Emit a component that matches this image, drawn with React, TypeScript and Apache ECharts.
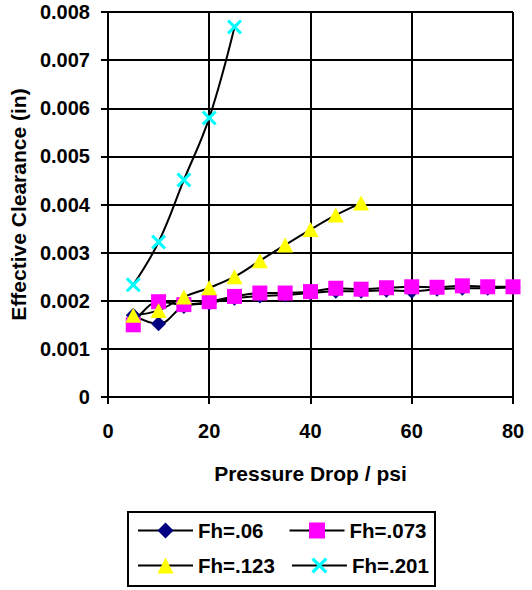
import React, { useEffect, useRef } from "react";
import * as echarts from "echarts";

const xFh06 = [5, 10, 15, 20, 25, 30, 35, 40, 45, 50, 55, 60, 65, 70, 75, 80];
const yFh06 = [0.0017, 0.00152, 0.00188, 0.00195, 0.00205, 0.0021, 0.00212, 0.00216, 0.0022, 0.0022, 0.00222, 0.0022, 0.00224, 0.00226, 0.00226, 0.00228];

const xFh073 = [5, 10, 15, 20, 25, 30, 35, 40, 45, 50, 55, 60, 65, 70, 75, 80];
const yFh073 = [0.0015, 0.00198, 0.00192, 0.00198, 0.00209, 0.00216, 0.00216, 0.00219, 0.00226, 0.00224, 0.00227, 0.00229, 0.00228, 0.00231, 0.00229, 0.00229];

const xFh123 = [5, 10, 15, 20, 25, 30, 35, 40, 45, 50];
const yFh123 = [0.0017, 0.0018, 0.00208, 0.00227, 0.0025, 0.00283, 0.00316, 0.00348, 0.00378, 0.00403];

const xFh201 = [5, 10, 15, 20, 25];
const yFh201 = [0.00233, 0.00322, 0.00451, 0.0058, 0.00769];

const seriesNames = ["Fh=.06", "Fh=.073", "Fh=.123", "Fh=.201"];
const xTitle = "Pressure Drop / psi";
const yTitle = "Effective Clearance (in)";

const FONT = "Liberation Sans, Arial, sans-serif";
const CROSS =
  "path://M0,1.4L1.4,0L5,3.6L8.6,0L10,1.4L6.4,5L10,8.6L8.6,10L5,6.4L1.4,10L0,8.6L3.6,5Z";

const zip = (xs: number[], ys: number[]) => xs.map((x, i) => [x, ys[i]]);

export default function App() {
  const ref = useRef<HTMLDivElement>(null);
  useEffect(() => {
    if (!ref.current) return;
    const chart = echarts.init(ref.current, null, { renderer: "svg" });
    const lineStyle = { color: "#000000", width: 2 };
    const legendCommon = {
      left: 137,
      orient: "horizontal" as const,
      itemWidth: 55,
      itemHeight: 20,
      padding: 0,
      textStyle: {
        fontFamily: FONT,
        fontWeight: "bold" as const,
        fontSize: 20.5,
        color: "#000",
      },
    };
    chart.setOption({
      animation: false,
      backgroundColor: "#ffffff",
      grid: { left: 107, right: 19, top: 12, bottom: 193 },
      xAxis: {
        type: "value",
        min: 0,
        max: 80,
        interval: 20,
        name: xTitle,
        nameLocation: "middle",
        nameGap: 66,
        nameTextStyle: { fontFamily: FONT, fontWeight: "bold", fontSize: 21, color: "#000" },
        axisLine: { show: true, lineStyle: { color: "#000", width: 2 } },
        axisTick: { show: true, length: 7, lineStyle: { color: "#000", width: 2 } },
        axisLabel: { fontFamily: FONT, fontWeight: "bold", fontSize: 20, color: "#000", margin: 24 },
        splitLine: { show: true, lineStyle: { color: "#000", width: 2 } },
      },
      yAxis: {
        type: "value",
        min: 0,
        max: 0.008,
        interval: 0.001,
        name: yTitle,
        nameLocation: "middle",
        nameGap: 76,
        nameTextStyle: { fontFamily: FONT, fontWeight: "bold", fontSize: 21, color: "#000" },
        axisLine: { show: true, lineStyle: { color: "#000", width: 2 } },
        axisTick: { show: true, length: 7, lineStyle: { color: "#000", width: 2 } },
        axisLabel: {
          fontFamily: FONT,
          fontWeight: "bold",
          fontSize: 20,
          color: "#000",
          margin: 18,
          padding: [7, 0, 0, 0],
          formatter: (v: number) => (v === 0 ? "0" : v.toFixed(3)),
        },
        splitLine: { show: true, lineStyle: { color: "#000", width: 2 } },
      },
      legend: [
        { ...legendCommon, top: 520, itemGap: 25, data: [seriesNames[0], seriesNames[1]] },
        { ...legendCommon, top: 555, itemGap: 16, data: [seriesNames[2], seriesNames[3]] },
      ],
      graphic: [
        {
          type: "rect",
          shape: { x: 128, y: 512, width: 307, height: 74 },
          style: { fill: "none", stroke: "#000", lineWidth: 2 },
          z: 0,
        },
      ],
      series: [
        {
          name: seriesNames[0],
          type: "line",
          data: zip(xFh06, yFh06),
          smooth: 0.4,
          symbol: "diamond",
          symbolSize: 15,
          lineStyle,
          itemStyle: { color: "#000080" },
        },
        {
          name: seriesNames[1],
          type: "line",
          data: zip(xFh073, yFh073),
          smooth: 0.4,
          symbol: "rect",
          symbolSize: 15,
          lineStyle,
          itemStyle: { color: "#FF00FF" },
        },
        {
          name: seriesNames[2],
          type: "line",
          data: zip(xFh123, yFh123),
          smooth: 0.4,
          symbol: "triangle",
          symbolSize: [16, 15],
          lineStyle,
          itemStyle: { color: "#FFFF00" },
        },
        {
          name: seriesNames[3],
          type: "line",
          data: zip(xFh201, yFh201),
          smooth: 0.4,
          symbol: CROSS,
          symbolSize: 15,
          lineStyle,
          itemStyle: { color: "#00FFFF" },
        },
      ],
    });
    return () => chart.dispose();
  }, []);
  return (
    <div
      ref={ref}
      style={{ position: "absolute", left: 0, top: 0, width: 532, height: 590 }}
    />
  );
}
